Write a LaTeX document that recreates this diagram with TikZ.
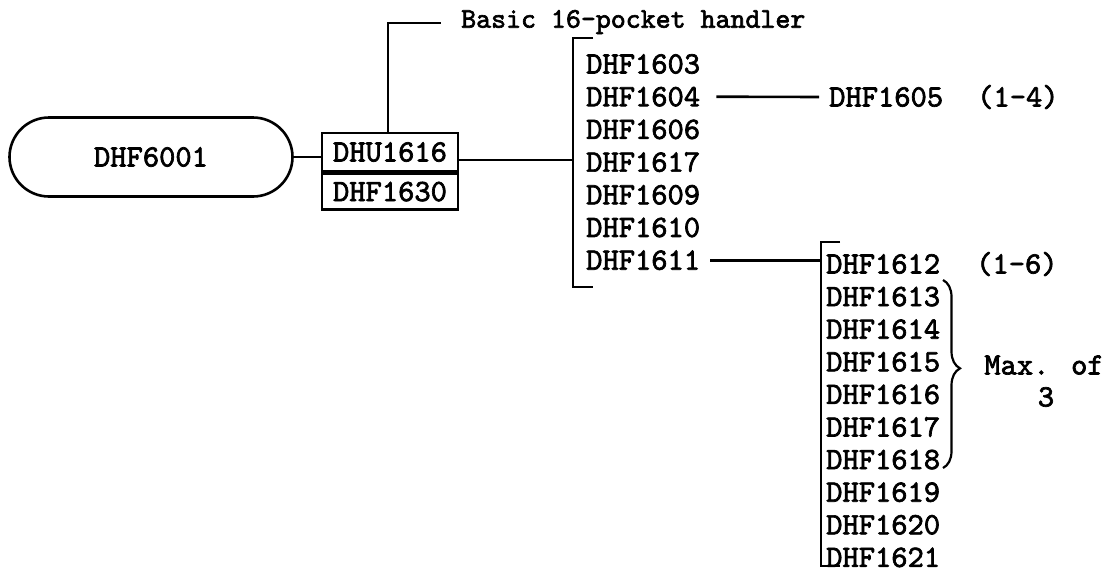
\documentclass[tikz,border=0pt]{standalone}
\usepackage{fontspec}
\newfontfamily\tw{lmmono10-regular.otf}[FakeBold=2.2]
\usetikzlibrary{shapes.misc,decorations.pathreplacing}
\tikzset{
  lbl/.style={font=\tw\fontsize{31}{31}\selectfont, inner sep=0pt},
  item/.style={lbl, anchor=west},
  ln/.style={line width=2.6pt},
}
\begin{document}
\begin{tikzpicture}[x=1pt,y=-1pt]
\useasboundingbox (0,0) rectangle (1113,574);
% main unit
\node[draw, ln, rounded rectangle, minimum width=283pt, minimum height=79pt, lbl] (p) at (151,157) {DHF6001};
\node[draw, ln, minimum width=136pt, minimum height=38pt, lbl] (u) at (390,152) {DHU1616};
\node[draw, ln, minimum width=136pt, minimum height=36pt, lbl, anchor=north] (f) at (u.south) {DHF1630};
\draw[ln] (p.east) -- (p.east -| u.west);
% header
\node[lbl, anchor=west, font=\tw\fontsize{28.5}{28.5}\selectfont] (hd) at (461,22) {Basic 16-pocket handler};
\coordinate (ht) at (388,23);
\coordinate (hl) at (441,23);
\draw[ln] (ht |- u.north) -- (ht) -- (hl);
% first bracket
\coordinate (j1) at (573,160);
\coordinate (b1t) at (573,38);
\coordinate (b1b) at (573,287);
\draw[ln] (j1 -| u.east) -- (j1);
\draw[ln] ([xshift=20pt]b1t) -- (b1t) -- (b1b) -- ([xshift=20pt]b1b);
\foreach \t [count=\i from 0] in {DHF1603,DHF1604,DHF1606,DHF1617,DHF1609,DHF1610,DHF1611}
  \node[item] (a\i) at (586,64+32.7*\i) {\t};
% DHF1605 branch
\node[item] (d5) at (829,97) {DHF1605};
\node[item] (r4) at (977,97) {(1-4)};
\draw[ln] ([xshift=16pt]a1.east) -- ([xshift=-10pt]d5.west);
% second bracket
\coordinate (b2t) at (821,242);
\coordinate (b2b) at (821,566);
\draw[ln] ([xshift=10pt]a6.east) -- (b2t |- a6.east);
\draw[ln] ([xshift=19pt]b2t) -- (b2t) -- (b2b) -- ([xshift=19pt]b2b);
\foreach \t [count=\i from 0] in {DHF1612,DHF1613,DHF1614,DHF1615,DHF1616,DHF1617,DHF1618,DHF1619,DHF1620,DHF1621}
  \node[item] (c\i) at (826,264+32.6*\i) {\t};
\node[item] (r6) at (976,264) {(1-6)};
% brace
\coordinate (brt) at (943,280);
\coordinate (brb) at (943,468);
\draw[line width=2.2pt, decorate, decoration={brace, amplitude=17pt, aspect=0.47}] (brt) -- (brb);
\node[lbl] (mx) at (1044,365) {Max. of};
\node[lbl] (m3) at (1046,397) {3};
\end{tikzpicture}
\end{document}
